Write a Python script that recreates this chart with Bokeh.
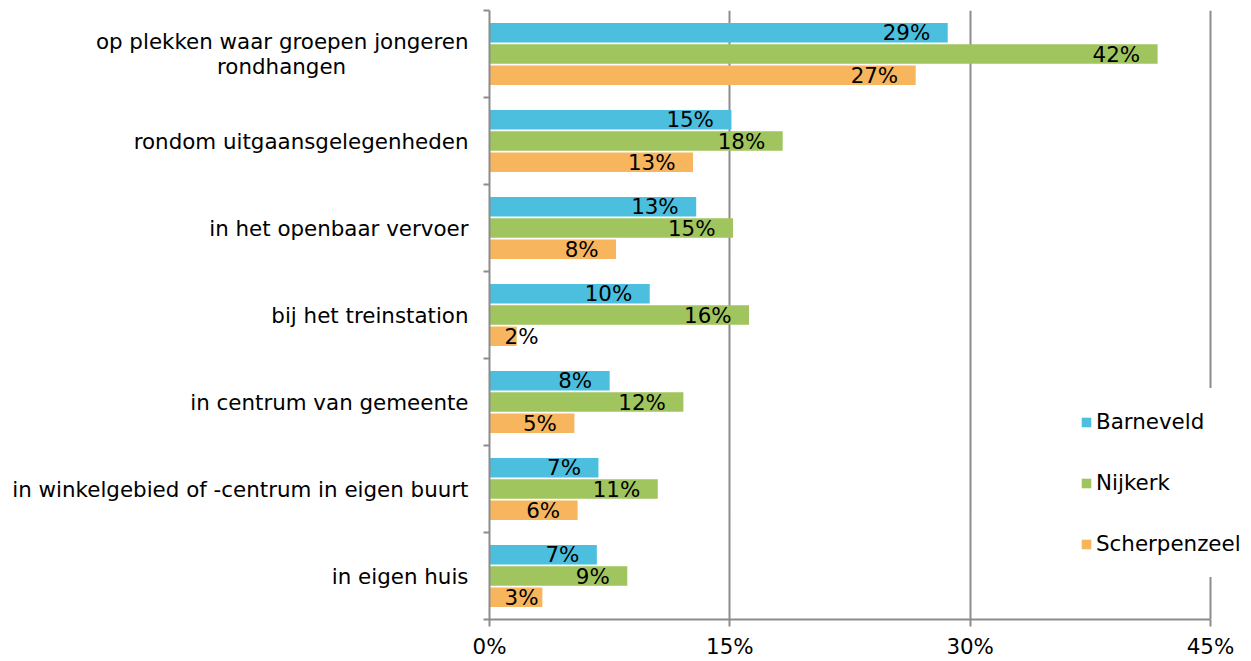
from bokeh.plotting import figure
from bokeh.models import (ColumnDataSource, Range1d, FixedTicker, Legend, LegendItem)
from bokeh.core.properties import value
from bokeh.embed import file_html
from bokeh.resources import INLINE

# ---- data ----
categories = [
    "op plekken waar groepen jongeren\nrondhangen",
    "rondom uitgaansgelegenheden",
    "in het openbaar vervoer",
    "bij het treinstation",
    "in centrum van gemeente",
    "in winkelgebied of -centrum in eigen buurt",
    "in eigen huis",
]
series_names = ["Barneveld", "Nijkerk", "Scherpenzeel"]
barneveld = [28.6, 15.1, 12.9, 10.0, 7.5, 6.8, 6.7]
nijkerk = [41.7, 18.3, 15.2, 16.2, 12.1, 10.5, 8.6]
scherpenzeel = [26.6, 12.7, 7.9, 1.7, 5.3, 5.5, 3.3]
x_ticks = [0, 15, 30, 45]
x_tick_labels = ["0%", "15%", "30%", "45%"]

colors = ["#4BBFDD", "#A0C55E", "#F7B55E"]
FONT = "DejaVu Sans"
FS = "21.4px"
GRID = "#8C8C8C"

W, H = 1251, 661
LEFT, TOP, BOTTOM = 489, 10, 41
AXIS_RIGHT = 1210                      # pixel where the 45% line sits
XMAX = x_ticks[-1]
ppu = (AXIS_RIGHT - LEFT) / float(XMAX)
x_end = (W - LEFT) / ppu              # let the frame run to the canvas edge

p = figure(width=W, height=H, output_backend="svg", toolbar_location=None,
           x_range=Range1d(0, x_end), y_range=Range1d(7, 0),
           min_border_left=LEFT, min_border_right=0,
           min_border_top=TOP, min_border_bottom=BOTTOM)
p.outline_line_color = None
p.background_fill_color = "white"
p.border_fill_color = "white"

# x axis
p.xaxis.bounds = (0, XMAX)
p.xaxis.ticker = FixedTicker(ticks=x_ticks)
p.xaxis.major_label_overrides = {t: l for t, l in zip(x_ticks, x_tick_labels)}
p.xaxis.axis_line_color = GRID
p.xaxis.axis_line_width = 2
p.xaxis.major_tick_line_color = GRID
p.xaxis.major_tick_line_width = 2
p.xaxis.major_tick_out = 7
p.xaxis.major_tick_in = 0
p.xaxis.minor_tick_line_color = None
p.xaxis.major_label_standoff = 7
p.xaxis.major_label_text_font = FONT
p.xaxis.major_label_text_font_size = FS
p.xaxis.major_label_text_color = "black"

# y axis (category labels at centres, ticks at category boundaries)
n = len(categories)
centers = [i + 0.5 for i in range(n)]


def axis_text(name):
    # centre the lines of a wrapped label the way the original does
    lines = name.split("\n")
    if len(lines) == 1:
        return name
    longest = max(len(l) for l in lines)
    out = []
    for l in lines:
        pad = int(round((longest - len(l)) * 0.8))
        out.append(l + "\u00a0" * pad)
    return "\n".join(out)


p.yaxis.ticker = FixedTicker(ticks=centers, minor_ticks=list(range(n + 1)))
p.yaxis.major_label_overrides = {c: axis_text(name) for c, name in zip(centers, categories)}
p.yaxis.axis_line_color = GRID
p.yaxis.axis_line_width = 2
p.yaxis.major_tick_line_color = None
p.yaxis.major_tick_out = 0
p.yaxis.major_tick_in = 0
p.yaxis.minor_tick_line_color = GRID
p.yaxis.minor_tick_line_width = 2
p.yaxis.minor_tick_out = 6
p.yaxis.minor_tick_in = 0
p.yaxis.major_label_standoff = 15
p.yaxis.major_label_text_font = FONT
p.yaxis.major_label_text_font_size = FS
p.yaxis.major_label_text_color = "black"
p.yaxis.major_label_text_line_height = 1.0

# grid
p.ygrid.grid_line_color = None
p.xgrid.ticker = FixedTicker(ticks=x_ticks[1:])
p.xgrid.grid_line_color = GRID
p.xgrid.grid_line_width = 2

# bars
pitch = 0.2445
bar_h = 0.222
renderers = []
label_x, label_y, label_t, label_off = [], [], [], []
for s, (name, vals, col) in enumerate(zip(series_names, [barneveld, nijkerk, scherpenzeel], colors)):
    ys = [c + (s - 1) * pitch for c in centers]
    src = ColumnDataSource(dict(y=ys, right=vals))
    r = p.hbar(y="y", left=0, right="right", height=bar_h, source=src,
               fill_color=col, line_color=None)
    renderers.append((name, r))
    for v, y in zip(vals, ys):
        txt = "%d%%" % int(v + 0.5)
        w = 11.5 * (len(txt) - 1) + 21.5
        end_px = v * ppu
        if end_px - 17.5 >= 16 + w:
            off = -17.5
        else:
            off = (16 + w) - end_px
        label_x.append(v)
        label_y.append(y)
        label_t.append(txt)
        label_off.append(off)

lsrc = ColumnDataSource(dict(x=label_x, y=label_y, text=label_t, off=label_off))
p.text(x="x", y="y", text="text", x_offset="off", source=lsrc,
       text_align="right", text_baseline="middle",
       text_font=value(FONT), text_font_size=FS, text_color="black")

legend = Legend(items=[LegendItem(label=nm, renderers=[r]) for nm, r in renderers],
                location=(570, 42), orientation="vertical",
                glyph_width=12, glyph_height=12, label_standoff=4,
                spacing=36, padding=20, margin=0,
                label_text_font=FONT, label_text_font_size=FS, label_text_color="black",
                border_line_color="white", border_line_width=1,
                background_fill_color="white", background_fill_alpha=1.0)
p.add_layout(legend, "center")

open("out.html", "w").write(file_html(p, INLINE))
